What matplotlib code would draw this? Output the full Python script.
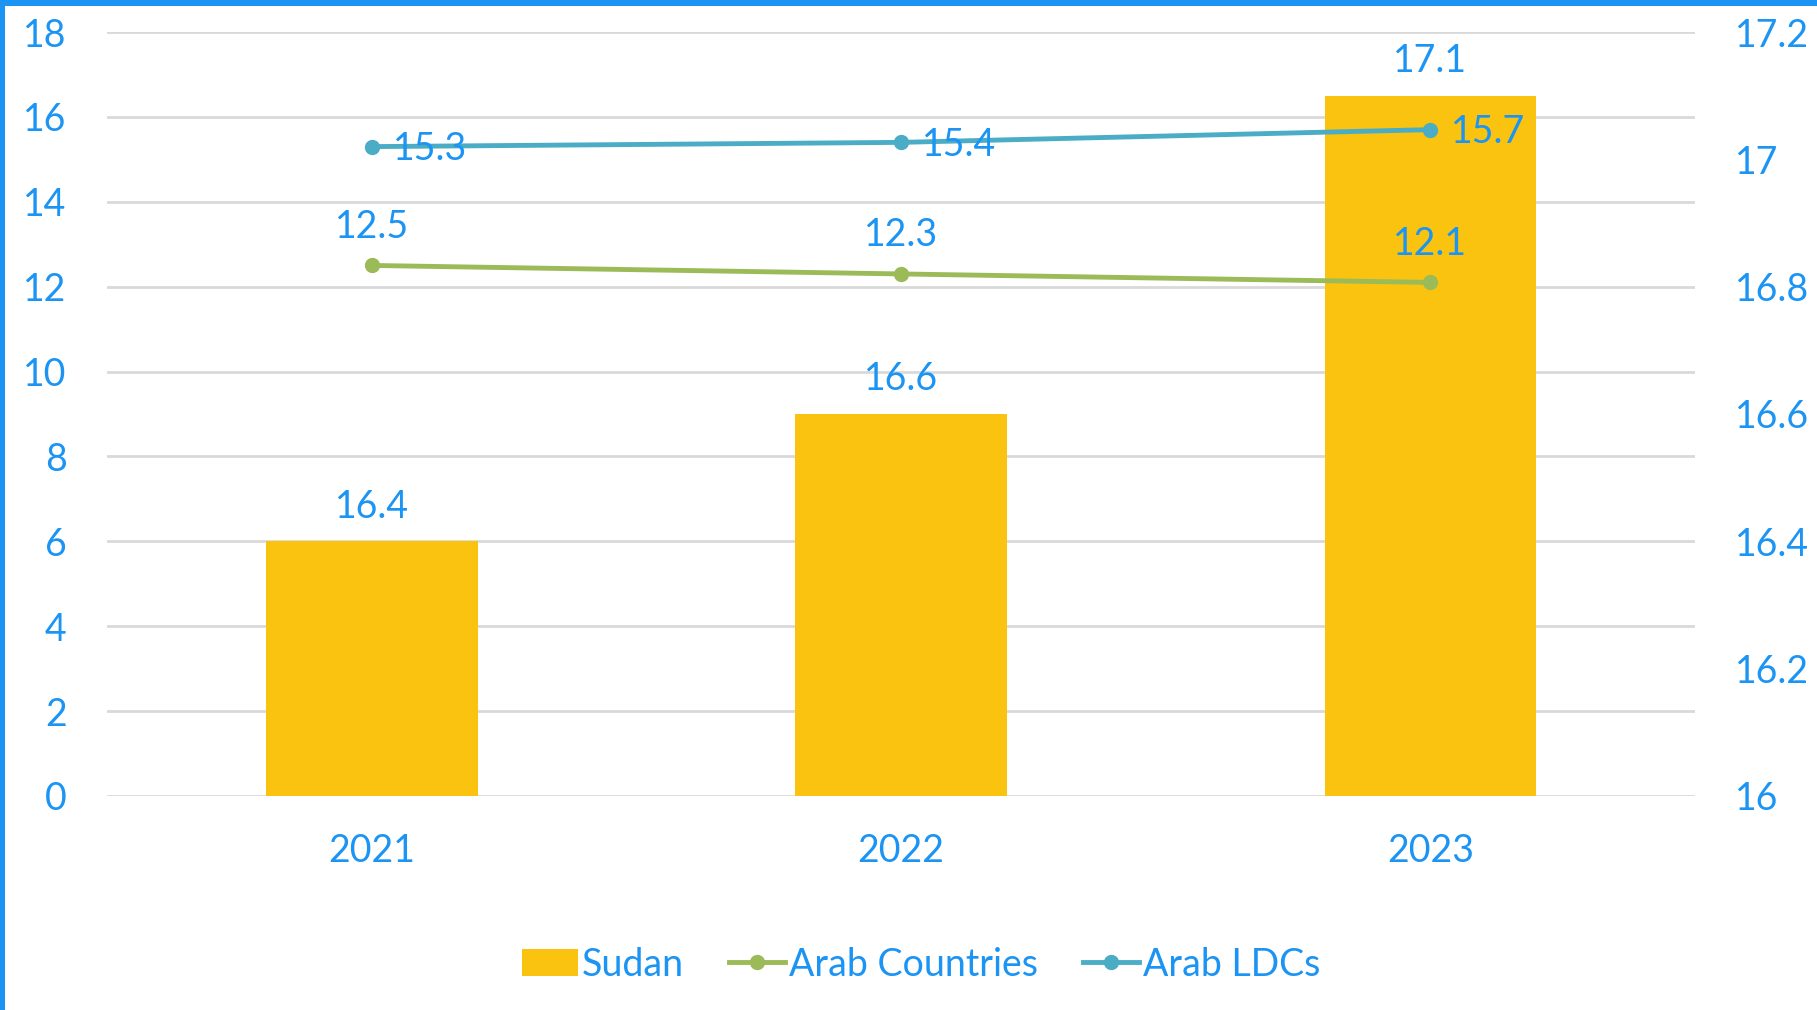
import matplotlib.pyplot as plt
import numpy as np
from matplotlib.patches import Rectangle

years = ["2021", "2022", "2023"]
sudan = [16.4, 16.6, 17.1]
arab_countries = [12.5, 12.3, 12.1]
arab_ldcs = [15.3, 15.4, 15.7]

text_c = "#1b94f3"
bar_c = "#f9c30f"
green = "#9bbb59"
teal = "#4bacc6"
grid_c = "#d9d9d9"

plt.rcParams["font.family"] = ["Lato", "DejaVu Sans"]
fs = 27

fig = plt.figure(figsize=(18.17, 10.10), dpi=100)
ax = fig.add_axes([0.0589, 0.2119, 0.874, 0.7564])
ax2 = ax.twinx()
ax.set_zorder(ax2.get_zorder() + 1)
ax.patch.set_visible(False)

x = np.arange(len(years))

# bars on the right axis
bars = ax2.bar(x, sudan, width=0.4, color=bar_c, label="Sudan", zorder=2)
ax2.set_ylim(16, 17.2)
ax2.set_yticks(np.round(np.arange(16, 17.21, 0.2), 1))
ax2.set_yticklabels(["16", "16.2", "16.4", "16.6", "16.8", "17", "17.2"])
# gridlines follow the left axis steps (every 2 from 0 to 18)
ax2.yaxis.remove_overlapping_locs = False
ax2.set_yticks(np.linspace(16, 17.2, 10), minor=True)
ax2.grid(which="minor", axis="y", color=grid_c, lw=2)
ax2.set_axisbelow(True)
ax2.tick_params(axis="y", which="both", length=0)
ax2.tick_params(axis="y", labelsize=fs, labelcolor=text_c, pad=29)
for xi, v in zip(x, sudan):
    ax2.annotate(f"{v}", (xi, v), xytext=(0, 25), textcoords="offset points",
                 ha="center", va="center", fontsize=fs, color=text_c)

# lines on the left axis
l1, = ax.plot(x, arab_countries, color=green, lw=3.5, marker="o", ms=10, label="Arab Countries")
l2, = ax.plot(x, arab_ldcs, color=teal, lw=3.5, marker="o", ms=10, label="Arab LDCs")
for xi, v in zip(x, arab_countries):
    ax.annotate(f"{v}", (xi, v), xytext=(0, 28), textcoords="offset points",
                ha="center", va="center", fontsize=fs, color=text_c)
for xi, v in zip(x, arab_ldcs):
    ax.annotate(f"{v}", (xi, v), xytext=(15, -2), textcoords="offset points",
                ha="left", va="center", fontsize=fs, color=text_c)

ax.set_ylim(0, 18)
ax.set_yticks(range(0, 19, 2))
ax.set_xlim(-0.5, 2.5)
ax.set_xticks(x)
ax.set_xticklabels(years)
ax.tick_params(length=0, labelsize=fs, labelcolor=text_c)
ax.tick_params(axis="y", pad=29)
ax.tick_params(axis="x", pad=27)

for a in (ax, ax2):
    for s in a.spines.values():
        s.set_visible(False)

fig.legend(handles=[bars, l1, l2], loc="center", bbox_to_anchor=(0.507, 0.045),
           ncol=3, frameon=False, fontsize=fs, labelcolor=text_c,
           handlelength=1.5, handletextpad=0.1, columnspacing=1.2)

# blue frame on top and left edges
fig.add_artist(Rectangle((0, 1 - 6 / 1010), 1, 6 / 1010, transform=fig.transFigure,
                         color=text_c, lw=0))
fig.add_artist(Rectangle((0, 0), 5 / 1817, 1, transform=fig.transFigure,
                         color=text_c, lw=0))

fig.savefig("out.png", dpi=100)
